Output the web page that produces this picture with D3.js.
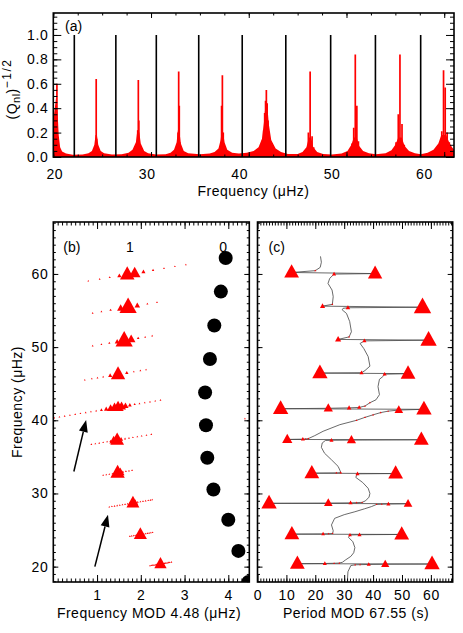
<!DOCTYPE html>
<html>
<head>
<meta charset="utf-8">
<script src="https://cdn.jsdelivr.net/npm/d3@7/dist/d3.min.js"></script>
<style>
  body { margin: 0; background: #fff; }
  text { font-family: "Liberation Sans", Arial, Helvetica, sans-serif; }
</style>
</head>
<body>
<svg id="fig" width="463" height="633"></svg>
<script>
// radial (l=0) modes, muHz
var l0Freq = [17.9, 22.15, 26.4, 30.54, 34.88, 39.33, 43.79, 48.38, 52.96, 57.59, 62.18];

// dipole (l=1) mixed modes: frequency (muHz) and (Q_nl)^-1/2
var l1Freq = [
  20.13, 20.16, 20.19, 20.22, 20.25, 20.28, 20.31, 20.34, 20.37, 20.40, 20.43, 20.46, 20.49, 20.52, 20.55, 20.58, 20.62,
  24.15, 24.19, 24.23, 24.27, 24.31, 24.35, 24.39, 24.43, 24.47, 24.51, 24.55, 24.59, 24.63, 24.67,
  28.16, 28.22, 28.28, 28.34, 28.40, 28.46, 28.52, 28.58, 28.64, 28.70, 28.75, 28.81, 28.87, 28.93, 28.99, 29.05, 29.10, 29.14,
  32.50, 32.57, 32.64, 32.71, 32.77, 32.83, 32.89, 32.95, 33.02, 33.09, 33.16,
  36.71, 36.80, 36.89, 36.98, 37.07, 37.15, 37.22, 37.30, 37.39, 37.48, 37.57, 37.66, 37.76, 37.86, 37.97, 38.08,
  40.22, 40.34, 40.46, 40.58, 40.70, 40.82, 40.94, 41.06, 41.18, 41.30, 41.42, 41.53, 41.63, 41.72, 41.80, 41.88, 41.97, 42.07, 42.18, 42.29, 42.41, 42.53, 42.65, 42.77,
  45.52, 45.68, 45.81, 45.94, 46.10, 46.28, 46.48, 46.64, 46.79, 46.92,
  50.18, 50.38, 50.56, 50.74, 50.90, 51.06, 51.22, 51.38, 51.54,
  54.66, 54.86, 55.07, 55.30, 55.47, 55.68, 55.91, 56.13,
  59.04, 59.30, 59.53, 59.75, 59.93, 60.10, 60.30, 60.52, 60.77, 61.02, 61.27
];
var l1Height = [
  0.01, 0.012, 0.015, 0.02, 0.026, 0.035, 0.06, 0.15, 0.60, 0.22, 0.07, 0.04, 0.028, 0.02, 0.016, 0.013, 0.01,
  0.01, 0.012, 0.016, 0.022, 0.035, 0.09, 0.64, 0.15, 0.05, 0.03, 0.02, 0.015, 0.012, 0.01,
  0.01, 0.012, 0.015, 0.018, 0.022, 0.03, 0.045, 0.08, 0.22, 0.63, 0.30, 0.10, 0.05, 0.03, 0.02, 0.015, 0.012, 0.01,
  0.02, 0.03, 0.045, 0.08, 0.20, 0.70, 0.42, 0.12, 0.06, 0.04, 0.025,
  0.015, 0.02, 0.025, 0.035, 0.06, 0.12, 0.42, 0.67, 0.20, 0.10, 0.06, 0.04, 0.03, 0.02, 0.015, 0.01,
  0.01, 0.012, 0.014, 0.016, 0.02, 0.024, 0.03, 0.04, 0.06, 0.09, 0.14, 0.22, 0.36, 0.46, 0.55, 0.44, 0.30, 0.18, 0.11, 0.07, 0.05, 0.035, 0.025, 0.02,
  0.02, 0.03, 0.045, 0.07, 0.20, 0.70, 0.17, 0.08, 0.045, 0.03,
  0.03, 0.05, 0.11, 0.24, 0.84, 0.42, 0.13, 0.07, 0.04,
  0.03, 0.06, 0.12, 0.35, 0.84, 0.27, 0.10, 0.05,
  0.06, 0.08, 0.10, 0.21, 0.71, 0.57, 0.20, 0.12, 0.05, 0.03, 0.02
];

// envelope of the dense, unresolved part of the spectrum in (a)
var floorFreq = [20.0, 20.15, 20.3, 20.45, 20.55, 20.7, 20.9, 21.3, 22.0, 23.0, 23.6, 23.95, 24.2, 24.32, 24.46, 24.6, 24.85,
  25.2, 26.0, 27.0, 27.7, 28.1, 28.45, 28.6, 28.8, 28.95, 29.3, 29.7, 30.5, 31.5, 32.0, 32.35, 32.62, 32.75, 32.92,
  33.05, 33.35, 33.8, 35.0, 36.0, 36.5, 36.9, 37.12, 37.24, 37.38, 37.52, 37.8, 38.3, 39.0, 39.8, 40.5, 41.0, 41.35,
  41.55, 41.7, 41.9, 42.05, 42.3, 42.75, 43.3, 44.0, 45.0, 45.5, 45.9, 46.15, 46.38, 46.6, 47.0, 47.6, 48.5, 49.5,
  50.1, 50.5, 50.75, 51.05, 51.3, 51.7, 52.3, 53.0, 54.0, 54.6, 55.0, 55.3, 55.65, 55.95, 56.4, 57.0, 57.6, 58.3,
  58.9, 59.4, 59.7, 60.2, 60.5, 60.8, 61.0];
var floorHeight = [0.3, 0.4, 0.5, 0.35, 0.18, 0.08, 0.045, 0.028, 0.018, 0.02, 0.03, 0.05, 0.1, 0.18, 0.18, 0.1, 0.05,
  0.03, 0.02, 0.022, 0.035, 0.06, 0.12, 0.22, 0.2, 0.11, 0.05, 0.03, 0.02, 0.022, 0.035, 0.06, 0.12, 0.22, 0.2,
  0.11, 0.05, 0.03, 0.022, 0.028, 0.04, 0.07, 0.14, 0.22, 0.2, 0.12, 0.06, 0.035, 0.028, 0.035, 0.05, 0.08, 0.15,
  0.28, 0.42, 0.42, 0.27, 0.14, 0.07, 0.04, 0.025, 0.025, 0.04, 0.08, 0.16, 0.16, 0.08, 0.04, 0.025, 0.02, 0.028,
  0.05, 0.1, 0.16, 0.16, 0.09, 0.05, 0.03, 0.022, 0.03, 0.055, 0.1, 0.16, 0.16, 0.09, 0.05, 0.03, 0.022, 0.035,
  0.06, 0.11, 0.18, 0.18, 0.12, 0.08, 0.06];

// period echelle (c): frequency, period mod 67.55 s, mode height (0 = curve only)
var echFreq = [18.0, 19.3, 20.15, 20.25, 20.27, 20.30, 20.33, 20.36, 20.40, 20.43, 20.46, 20.49, 20.6, 20.9, 21.4, 21.9, 22.6, 23.4, 24.0,
  24.32, 24.36, 24.40, 24.44, 24.47, 24.50, 24.53, 24.9, 25.7, 26.6, 27.1, 27.5, 27.9, 28.2,
  28.50, 28.53, 28.56, 28.60, 28.65, 28.69, 28.72, 28.75, 28.78, 29.0, 29.5, 30.0, 30.7, 31.5, 32.2,
  32.68, 32.72, 32.77, 32.81, 32.84, 33.1, 33.7, 34.6, 35.5, 36.3, 36.9,
  37.24, 37.27, 37.30, 37.34, 37.38, 37.42, 37.45, 37.50, 37.9, 38.5, 39.4, 40.0, 40.4, 40.75, 41.05, 41.25,
  41.40, 41.50, 41.58, 41.64, 41.70, 41.76, 41.95, 42.40, 42.8, 43.5, 44.6, 45.6,
  46.05, 46.30, 46.38, 46.45, 46.50, 46.8, 47.4, 48.7, 49.8, 50.5,
  50.85, 50.95, 51.05, 51.40, 52.1, 53.5, 54.6, 55.1,
  55.30, 55.38, 55.45, 55.60, 55.85, 56.9, 57.8, 58.7, 59.4,
  59.98, 60.05, 60.20, 60.45, 60.9, 61.6, 62.4];
var echPmod = [31.1, 31.3, 32.3, 33.8, 35.5, 38.5, 44.2, 60.4, 13.8, 23.3, 26.5, 28.3, 29.4, 30.4, 32.3, 33.3, 33.7, 33.0, 31.5,
  32.0, 35.3, 49.9, 11.9, 22.7, 24.6, 26.0, 26.2, 25.6, 26.7, 30.0, 33.7, 37.0, 39.4,
  41.2, 43.0, 45.3, 52.1, 4.0, 24.5, 32.2, 34.3, 36.2, 37.4, 38.6, 38.9, 38.3, 36.4, 34.0,
  34.6, 47.8, 18.8, 27.3, 28.8, 28.6, 27.9, 25.6, 23.2, 22.1, 22.4,
  23.5, 25.6, 32.5, 56.7, 10.3, 15.7, 16.6, 17.6, 19.8, 22.7, 28.5, 34.3, 37.2, 40.0, 42.6, 45.2,
  48.9, 57.6, 8.0, 24.5, 31.7, 35.2, 37.2, 38.9, 41.0, 42.2, 41.7, 42.2,
  43.6, 44.0, 52.1, 21.6, 36.0, 37.2, 38.9, 38.3, 36.8, 35.5,
  37.0, 59.2, 27.9, 31.7, 32.5, 31.9, 30.8, 29.3,
  29.6, 31.3, 57.1, 22.5, 25.9, 26.2, 25.8, 24.4, 25.0,
  26.5, 40.7, 11.8, 20.0, 21.7, 22.1, 21.8];
var echSize = [0, 0, 0, 0.06, 0.06, 0.2, 0.4, 0.75, 0.72, 0.2, 0.07, 0.07, 0, 0, 0, 0, 0, 0, 0,
  0.18, 0.2, 0.72, 0.72, 0.18, 0.07, 0.07, 0, 0, 0, 0, 0, 0, 0,
  0.07, 0.07, 0.2, 0.42, 0.75, 0.42, 0.2, 0.07, 0.07, 0, 0, 0, 0, 0, 0,
  0.2, 0.72, 0.72, 0.1, 0.12, 0, 0, 0, 0, 0, 0,
  0, 0.2, 0.45, 0.72, 0.5, 0.2, 0.07, 0.06, 0, 0, 0, 0.05, 0.05, 0.06, 0.07, 0.07,
  0.42, 0.75, 0.75, 0.45, 0.22, 0.2, 0.07, 0.07, 0, 0, 0, 0,
  0, 0.2, 0.72, 0.75, 0.2, 0, 0, 0, 0, 0,
  0.2, 0.8, 0.3, 0.08, 0, 0, 0, 0,
  0, 0.22, 0.85, 0.25, 0.08, 0, 0, 0, 0,
  0.2, 0.7, 0.72, 0.1, 0, 0, 0];

// arrows in (b): tail and head in (freq mod, freq)
var arrowX0 = [0.47, 0.95], arrowF0 = [33.0, 20.0];
var arrowX1 = [0.75, 1.25], arrowF1 = [40.05, 27.08];

// tick values
var xTicksA = [20, 30, 40, 50, 60], yTicksA = [0, 0.2, 0.4, 0.6, 0.8, 1.0];
var xTicksB = [1, 2, 3, 4], yTicksB = [20, 30, 40, 50, 60];
var xTicksC = [0, 10, 20, 30, 40, 50, 60];

var dnu = 4.48, dpi = 67.55;
var FONT = '"Liberation Sans", Arial, Helvetica, sans-serif';
var svg = d3.select('#fig');

function triPath(w) {
  var h = w * 0.9;
  return 'M0,' + (-h * 0.62) + 'L' + (w / 2) + ',' + (h * 0.38) + 'L' + (-w / 2) + ',' + (h * 0.38) + 'Z';
}
function triW(s) { return Math.max(1.8, 20.5 * s); }

function inTicks(g, x, y, side, vals, len) {
  var ax, tr;
  if (side == 'bottom') { ax = d3.axisBottom(x); tr = 'translate(0,' + y.range()[0] + ')'; }
  if (side == 'top') { ax = d3.axisTop(x); tr = 'translate(0,' + y.range()[1] + ')'; }
  if (side == 'left') { ax = d3.axisLeft(y); tr = 'translate(' + x.range()[0] + ',0)'; }
  if (side == 'right') { ax = d3.axisRight(y); tr = 'translate(' + x.range()[1] + ',0)'; }
  var a = g.append('g').attr('transform', tr)
    .call(ax.tickValues(vals).tickSize(-len).tickFormat(''));
  a.select('.domain').remove();
  a.selectAll('line').attr('stroke', '#000').attr('stroke-width', 1);
}

function frame(g, x, y, xMaj, xMin, yMaj, yMin, xLen, yLen) {
  ['bottom', 'top'].forEach(function(s) {
    inTicks(g, x, y, s, xMin, xLen / 2);
    inTicks(g, x, y, s, xMaj, xLen);
  });
  ['left', 'right'].forEach(function(s) {
    inTicks(g, x, y, s, yMin, yLen / 2);
    inTicks(g, x, y, s, yMaj, yLen);
  });
  g.append('rect')
    .attr('x', x.range()[0]).attr('y', y.range()[1])
    .attr('width', x.range()[1] - x.range()[0])
    .attr('height', y.range()[0] - y.range()[1])
    .attr('fill', 'none').attr('stroke', '#000').attr('stroke-width', 1.6);
}

function labels(g, axis, tr, pad, fmt) {
  var a = g.append('g').attr('transform', tr)
    .call(axis.tickSize(0).tickPadding(pad).tickFormat(fmt));
  a.select('.domain').remove();
  a.attr('font-family', FONT).attr('font-size', 14).attr('letter-spacing', 0.6);
}

function clipTo(g, id, x, y) {
  g.append('clipPath').attr('id', id).append('rect')
    .attr('x', x.range()[0]).attr('y', y.range()[1])
    .attr('width', x.range()[1] - x.range()[0])
    .attr('height', y.range()[0] - y.range()[1]);
  return g.append('g').attr('clip-path', 'url(#' + id + ')');
}

function title(x, y, txt, rot) {
  return svg.append('text')
    .attr('transform', 'translate(' + x + ',' + y + ')' + (rot ? ' rotate(-90)' : ''))
    .attr('text-anchor', 'middle').attr('font-size', 14).attr('letter-spacing', 0.5)
    .text(txt);
}

// ---------- (a) spectrum ----------
var xA = d3.scaleLinear().domain([20, 61]).range([53.3, 454]);
var yA = d3.scaleLinear().domain([0, 1.18]).range([157, 13]);
var gA = svg.append('g');
var pA = clipTo(gA, 'clipA', xA, yA);

pA.append('path')
  .datum(d3.range(floorFreq.length))
  .attr('d', d3.area()
    .x(function(i) { return xA(floorFreq[i]); })
    .y0(yA(0))
    .y1(function(i) { return yA(floorHeight[i]); }))
  .attr('fill', 'red');

pA.selectAll('line.l1').data(l1Freq).enter().append('line')
  .attr('class', 'l1')
  .attr('x1', function(d) { return xA(d); })
  .attr('x2', function(d) { return xA(d); })
  .attr('y1', yA(0))
  .attr('y2', function(d, i) { return yA(l1Height[i]); })
  .attr('stroke', 'red').attr('stroke-width', 1.7);

pA.selectAll('line.l0').data(l0Freq).enter().append('line')
  .attr('class', 'l0')
  .attr('x1', function(d) { return xA(d); })
  .attr('x2', function(d) { return xA(d); })
  .attr('y1', yA(0)).attr('y2', yA(1))
  .attr('stroke', '#000').attr('stroke-width', 1.6);

frame(gA, xA, yA, xTicksA, d3.range(20, 61.01, 2.5), yTicksA, d3.range(0, 1.18, 0.05), 5, 8);

// the printed x labels of the top panel sit left of their ticks in the original figure
var xALab = d3.scaleLinear().domain([20, 60]).range([54.8, 424.5]);
gA.append('g').selectAll('text').data(xTicksA).enter().append('text')
  .attr('x', function(d) { return xALab(d); })
  .attr('y', 178.5)
  .attr('text-anchor', 'middle').attr('font-size', 14).attr('letter-spacing', 0.6)
  .text(function(d) { return d; });
labels(gA, d3.axisLeft(yA).tickValues(yTicksA), 'translate(' + xA.range()[0] + ',0)', 5, d3.format('.1f'));

title(253.5, 196, 'Frequency (\u03bcHz)');
var ytA = svg.append('text')
  .attr('transform', 'translate(16.5,89) rotate(-90)')
  .attr('text-anchor', 'middle').attr('font-size', 14).attr('letter-spacing', 0.5);
ytA.append('tspan').text('(Q');
ytA.append('tspan').attr('font-size', 11).attr('dy', 3).text('nl');
ytA.append('tspan').attr('dy', -3).text(')');
ytA.append('tspan').attr('font-size', 12).attr('dy', -6).attr('letter-spacing', 1.5).text('\u22121/2');
svg.append('text').attr('x', 65).attr('y', 31).attr('font-size', 14).text('(a)');

// ---------- (b) frequency echelle ----------
var xB = d3.scaleLinear().domain([0, dnu]).range([53.3, 249.3]);
var yB = d3.scaleLinear().domain([17.9, 67.1]).range([582, 222]);
var gB = svg.append('g');
var pB = clipTo(gB, 'clipB', xB, yB);

var orderB = d3.range(l1Freq.length).sort(function(a, b) { return l1Height[a] - l1Height[b]; });
pB.selectAll('path.tri').data(orderB).enter().append('path')
  .attr('class', 'tri')
  .attr('transform', function(i) { return 'translate(' + xB(l1Freq[i] % dnu) + ',' + yB(l1Freq[i]) + ')'; })
  .attr('d', function(i) { return triPath(triW(l1Height[i])); })
  .attr('fill', 'red');

pB.selectAll('circle').data(l0Freq).enter().append('circle')
  .attr('cx', function(d) { return xB(d % dnu); })
  .attr('cy', function(d) { return yB(d); })
  .attr('r', 7).attr('fill', '#000');

arrowX0.forEach(function(_, i) {
  var x0 = xB(arrowX0[i]), y0 = yB(arrowF0[i]), x1 = xB(arrowX1[i]), y1 = yB(arrowF1[i]);
  var ang = Math.atan2(y1 - y0, x1 - x0), L = 12, hw = 4.5;
  var bx = x1 - L * Math.cos(ang), by = y1 - L * Math.sin(ang);
  pB.append('line')
    .attr('x1', x0).attr('y1', y0).attr('x2', bx).attr('y2', by)
    .attr('stroke', '#000').attr('stroke-width', 1.5);
  pB.append('path')
    .attr('d', 'M' + x1 + ',' + y1 +
      'L' + (bx + hw * Math.sin(ang)) + ',' + (by - hw * Math.cos(ang)) +
      'L' + (bx - hw * Math.sin(ang)) + ',' + (by + hw * Math.cos(ang)) + 'Z')
    .attr('fill', '#000');
});

frame(gB, xB, yB, xTicksB, d3.range(0.1, dnu, 0.1), yTicksB, d3.range(18, 67.1, 1), 7, 5);
labels(gB, d3.axisBottom(xB).tickValues(xTicksB), 'translate(0,' + yB.range()[0] + ')', 8, d3.format('d'));
labels(gB, d3.axisLeft(yB).tickValues(yTicksB), 'translate(' + xB.range()[0] + ',0)', 5, d3.format('d'));

title(149, 618, 'Frequency MOD 4.48 (\u03bcHz)');
title(21.5, 402, 'Frequency (\u03bcHz)', true);
svg.append('text').attr('x', xB.range()[0] + 10).attr('y', 251.5).attr('font-size', 14).text('(b)');
svg.append('text').attr('x', xB(1.75)).attr('y', 252).attr('text-anchor', 'middle').attr('font-size', 14).text('1');
svg.append('text').attr('x', xB(3.88)).attr('y', 252).attr('text-anchor', 'middle').attr('font-size', 14).text('0');

// ---------- (c) period echelle ----------
var xC = d3.scaleLinear().domain([0, dpi]).range([257.5, 452.7]);
var yC = yB.copy();
var gC = svg.append('g');
var pC = clipTo(gC, 'clipC', xC, yC);

pC.append('path')
  .datum(d3.range(echFreq.length))
  .attr('d', d3.line()
    .x(function(i) { return xC(echPmod[i]); })
    .y(function(i) { return yC(echFreq[i]); }))
  .attr('fill', 'none').attr('stroke', '#444').attr('stroke-width', 0.8);

var orderC = d3.range(echFreq.length).filter(function(i) { return echSize[i] > 0; });
pC.selectAll('path.tri').data(orderC).enter().append('path')
  .attr('class', 'tri')
  .attr('transform', function(i) { return 'translate(' + xC(echPmod[i]) + ',' + yC(echFreq[i]) + ')'; })
  .attr('d', function(i) { return triPath(triW(echSize[i])); })
  .attr('fill', 'red');

frame(gC, xC, yC, xTicksC, d3.range(1, dpi, 1), yTicksB, d3.range(18, 67.1, 1), 7, 5);
labels(gC, d3.axisBottom(xC).tickValues(xTicksC), 'translate(0,' + yC.range()[0] + ')', 8, d3.format('d'));

title(356, 618, 'Period MOD 67.55 (s)');
svg.append('text').attr('x', xC.range()[0] + 11).attr('y', 251.5).attr('font-size', 14).text('(c)');
</script>
</body>
</html>
